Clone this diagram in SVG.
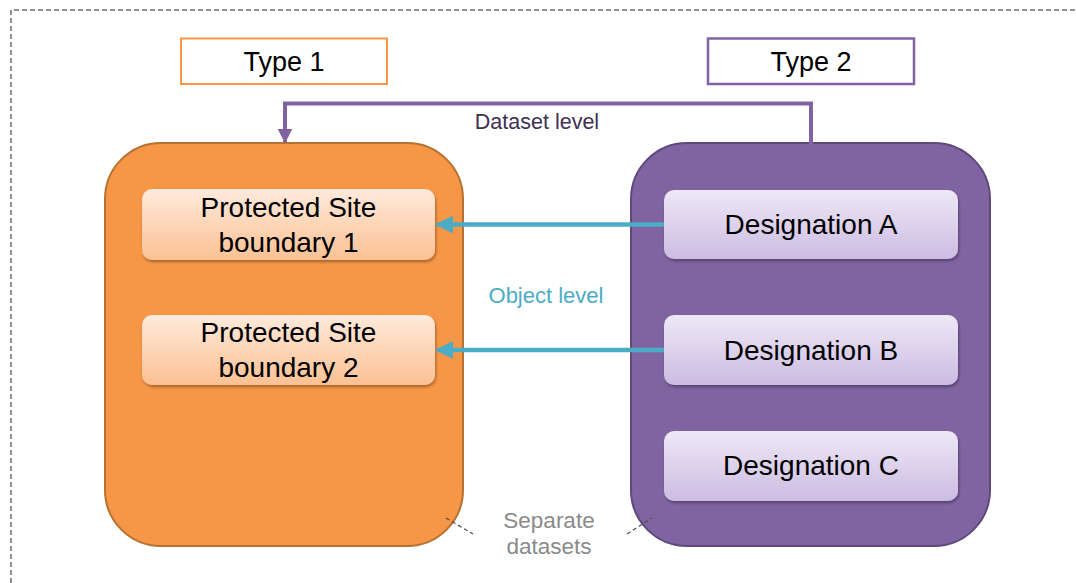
<svg xmlns="http://www.w3.org/2000/svg" width="1076" height="583" viewBox="0 0 1076 583">
<defs>
<linearGradient id="gO" x1="0" y1="0" x2="0" y2="1"><stop offset="0" stop-color="#FFEADC"/><stop offset="1" stop-color="#FBC193"/></linearGradient>
<linearGradient id="gP" x1="0" y1="0" x2="0" y2="1"><stop offset="0" stop-color="#EEE8F6"/><stop offset="1" stop-color="#CCBCE2"/></linearGradient>
<filter id="sh" x="-10%" y="-20%" width="120%" height="150%"><feGaussianBlur in="SourceAlpha" stdDeviation="1.5"/><feOffset dx="1" dy="2" result="b"/><feComponentTransfer><feFuncA type="linear" slope="0.35"/></feComponentTransfer><feMerge><feMergeNode/><feMergeNode in="SourceGraphic"/></feMerge></filter>
<marker id="aB" viewBox="0 0 10 10" refX="9" refY="5" markerWidth="4" markerHeight="4" orient="auto" markerUnits="strokeWidth"><path d="M0,0 L10,5 L0,10 z" fill="#4BACC6"/></marker>
<marker id="aP" viewBox="0 0 10 10" refX="9" refY="5" markerWidth="3.6" markerHeight="3.6" orient="auto" markerUnits="strokeWidth"><path d="M0,0 L10,5 L0,10 z" fill="#8064A2"/></marker>
</defs>
<style>
text{font-family:"Liberation Sans",Arial,sans-serif;text-anchor:middle}
.lbl{font-size:27px;fill:#000}
.inner{font-size:28px;fill:#000}
.ib{stroke:none;filter:url(#sh)}
</style>
<rect x="0" y="0" width="1076" height="583" fill="#fff"/>
<path d="M11,583 L11,10 L1076,10" fill="none" stroke="#6E6E6E" stroke-width="1.5" stroke-dasharray="5,3"/>
<g id="type1"><rect x="181" y="38.5" width="206" height="45.5" fill="#fff" stroke="#F79646" stroke-width="2"/><text class="lbl" x="284" y="71">Type 1</text></g>
<g id="type2"><rect x="708" y="38.5" width="206" height="45.5" fill="#fff" stroke="#8064A2" stroke-width="2.5"/><text class="lbl" x="811" y="71">Type 2</text></g>
<g id="dataset1"><rect x="105" y="143" width="358" height="403" rx="56" fill="#F79646" stroke="#B6722F" stroke-width="2"/></g>
<g id="dataset2"><rect x="631" y="143" width="359" height="403" rx="56" fill="#8064A2" stroke="#5E497C" stroke-width="2"/></g>
<g id="psb1"><rect class="ib" x="142" y="189" width="293" height="71" rx="10" fill="url(#gO)"/><text class="inner" x="288.5" y="217">Protected Site</text><text class="inner" x="288.5" y="252">boundary 1</text></g>
<g id="psb2"><rect class="ib" x="142" y="315" width="293" height="70" rx="10" fill="url(#gO)"/><text class="inner" x="288.5" y="342">Protected Site</text><text class="inner" x="288.5" y="377">boundary 2</text></g>
<g id="desA"><rect class="ib" x="664" y="190" width="294" height="69" rx="10" fill="url(#gP)"/><text class="inner" x="811" y="234">Designation A</text></g>
<g id="desB"><rect class="ib" x="664" y="315" width="294" height="70" rx="10" fill="url(#gP)"/><text class="inner" x="811" y="360">Designation B</text></g>
<g id="desC"><rect class="ib" x="664" y="431" width="294" height="70" rx="10" fill="url(#gP)"/><text class="inner" x="811" y="475">Designation C</text></g>
<g id="connectors">
<path d="M811,145 L811,103.5 L285,103.5 L285,142" fill="none" stroke="#8064A2" stroke-width="4" stroke-linejoin="miter" marker-end="url(#aP)"/>
<line x1="664" y1="224.5" x2="437" y2="224.5" stroke="#4BACC6" stroke-width="4.5" marker-end="url(#aB)"/>
<line x1="664" y1="350" x2="437" y2="350" stroke="#4BACC6" stroke-width="4.5" marker-end="url(#aB)"/>
<line x1="446" y1="518" x2="473" y2="534" stroke="#4A4A4A" stroke-width="1.2" stroke-dasharray="4,3"/>
<line x1="627" y1="534" x2="652" y2="518" stroke="#4A4A4A" stroke-width="1.2" stroke-dasharray="4,3"/>
</g>
<text x="537" y="129" font-size="21.5" fill="#403152">Dataset level</text>
<text x="546" y="303" font-size="22" fill="#4BACC6">Object level</text>
<text x="549" y="528" font-size="22.5" fill="#8A8A8A">Separate</text>
<text x="549" y="554" font-size="22.5" fill="#8A8A8A">datasets</text>
</svg>
